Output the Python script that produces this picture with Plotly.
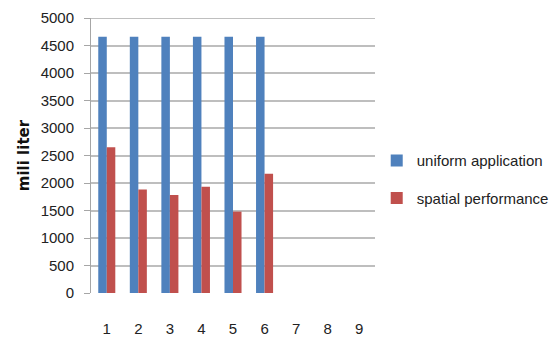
import plotly.graph_objects as go

# Trial numbers along the x axis (7-9 have no measurements)
categories = [1, 2, 3, 4, 5, 6, 7, 8, 9]
uniform_application = [4660, 4660, 4660, 4660, 4660, 4660, None, None, None]
spatial_performance = [2650, 1880, 1780, 1930, 1480, 2170, None, None, None]
y_ticks = [0, 500, 1000, 1500, 2000, 2500, 3000, 3500, 4000, 4500, 5000]

BLUE = "#4F81BD"
RED = "#C0504D"
FONT = "Liberation Sans, Arial, sans-serif"

fig = go.Figure()
fig.add_trace(go.Bar(
    x=categories, y=uniform_application, name="uniform application",
    marker=dict(color=BLUE, line=dict(width=0)), legendgroup="a",
))
fig.add_trace(go.Bar(
    x=categories, y=spatial_performance, name="spatial performance",
    marker=dict(color=RED, line=dict(width=0)), legendgroup="b",
))

fig.update_layout(
    width=554, height=339,
    margin=dict(l=91, r=179, t=18, b=46, autoexpand=False),
    paper_bgcolor="white", plot_bgcolor="white",
    barmode="group", bargap=0.46, bargroupgap=0,
    font=dict(family=FONT, size=15, color="#222222"),
    showlegend=True,
    legend=dict(
        xref="container", yref="container",
        x=0.68, y=0.471, xanchor="left", yanchor="middle",
        traceorder="grouped", tracegroupgap=15,
        font=dict(family=FONT, size=15, color="#222222"),
        itemwidth=30,
    ),
    xaxis=dict(
        tickmode="array", tickvals=categories, ticktext=[str(c) for c in categories],
        range=[0.5, 9.5], showgrid=False, zeroline=False, automargin=False,
        showline=False, ticks="", ticklabelstandoff=25,
        tickfont=dict(family=FONT, size=15, color="#222222"),
    ),
    yaxis=dict(
        range=[0, 5000], tickmode="array", tickvals=y_ticks, automargin=False,
        showgrid=True, gridcolor="#BEBEBE", gridwidth=2,
        zeroline=False, showline=True, linecolor="#A6A6A6", linewidth=1,
        ticks="outside", ticklen=6, tickcolor="#A6A6A6", tickwidth=1,
        ticklabelstandoff=7,
        tickfont=dict(family=FONT, size=15, color="#222222"),
        title=dict(text="<b>mili liter</b>", standoff=7,
                   font=dict(family="DejaVu Sans, sans-serif", size=15, color="#111111")),
    ),
)

# Dark top border line at the 5000 level
fig.add_shape(type="line", xref="paper", yref="y", x0=0, x1=1, y0=5000, y1=5000,
              line=dict(color="#808080", width=1))

fig.write_html("out.html")
